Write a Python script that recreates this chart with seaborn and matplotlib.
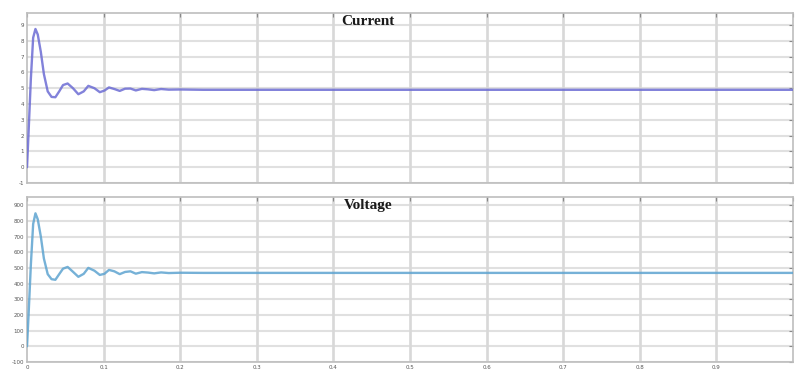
import numpy as np
import pandas as pd
import matplotlib
matplotlib.use("Agg")
import matplotlib.pyplot as plt
import seaborn as sns

# Step response of the converter: time (s), current (A) and voltage (V)
time_s = [0.0, 0.002, 0.005, 0.008, 0.011, 0.014, 0.018, 0.022, 0.027, 0.032,
          0.037, 0.042, 0.047, 0.053, 0.060, 0.067, 0.074, 0.080, 0.088, 0.095,
          0.101, 0.107, 0.114, 0.121, 0.128, 0.135, 0.142, 0.150, 0.158, 0.166,
          0.175, 0.185, 0.200, 0.230, 0.300, 1.000]
current_a = [0.0, 2.2, 5.6, 8.2, 8.75, 8.4, 7.3, 5.9, 4.8, 4.45,
             4.43, 4.8, 5.2, 5.3, 5.0, 4.62, 4.8, 5.15, 5.0, 4.75,
             4.85, 5.05, 4.95, 4.83, 4.97, 4.98, 4.86, 4.96, 4.93, 4.88,
             4.95, 4.91, 4.92, 4.9, 4.9, 4.9]
voltage_v = [0.0, 200.0, 520.0, 780.0, 848.0, 810.0, 700.0, 560.0, 460.0, 428.0,
             424.0, 460.0, 495.0, 506.0, 475.0, 443.0, 462.0, 500.0, 482.0, 455.0,
             462.0, 487.0, 478.0, 460.0, 474.0, 478.0, 463.0, 473.0, 470.0, 465.0,
             471.0, 467.0, 469.0, 468.0, 468.0, 468.0]

x_ticks = [0, 0.1, 0.2, 0.3, 0.4, 0.5, 0.6, 0.7, 0.8, 0.9, 1.0]
x_tick_labels = ["0", "0.1", "0.2", "0.3", "0.4", "0.5", "0.6", "0.7", "0.8", "0.9", ""]
current_ticks = [-1, 0, 1, 2, 3, 4, 5, 6, 7, 8, 9]
voltage_ticks = [-100, 0, 100, 200, 300, 400, 500, 600, 700, 800, 900]

df = pd.DataFrame({"t": time_s, "current": current_a, "voltage": voltage_v})

sns.set_style("white")
plt.rcParams["font.family"] = ["DejaVu Sans"]

fig = plt.figure(figsize=(7.95, 3.72), dpi=100)
ax_i = fig.add_axes([0.034, 0.508, 0.9635, 0.457])
ax_v = fig.add_axes([0.034, 0.027, 0.9635, 0.443])

panels = [
    (ax_i, "current", "#6c6cd4", current_ticks, (-1, 9.76), "Current"),
    (ax_v, "voltage", "#5ea4d0", voltage_ticks, (-100, 951), "Voltage"),
]

for ax, col, color, yt, ylim, title in panels:
    ax.set_axisbelow(True)
    # MATLAB-like grid: light horizontal rules, heavier vertical ones
    for y in yt:
        ax.axhline(y, color="#e0e0e0", lw=1.5, zorder=0)
    for x in x_ticks[1:-1]:
        ax.axvline(x, color="#d8d8d8", lw=1.9, zorder=0)
    sns.lineplot(data=df, x="t", y=col, ax=ax, color=color, lw=1.7,
                 alpha=0.85, estimator=None, zorder=3)
    ax.set_xlim(0, 1.0)
    ax.set_ylim(*ylim)
    ax.set_yticks(yt)
    ax.set_yticklabels([str(v) for v in yt])
    ax.set_xticks(x_ticks)
    ax.set_xlabel("")
    ax.set_ylabel("")
    ax.tick_params(axis="both", which="both", direction="in", length=3,
                   width=0.8, color="#888888", labelsize=4, labelcolor="#555555",
                   top=True, right=True, pad=2)
    for side, sp in ax.spines.items():
        sp.set_color("#bdbdbd")
        sp.set_linewidth(1.2)
    ax.text(0.445, 0.99, title, transform=ax.transAxes, ha="center", va="top",
            fontsize=11, fontweight="bold", family="Liberation Serif",
            color="#1a1a1a", zorder=5)

ax_i.set_xticklabels([])
ax_v.set_xticklabels(x_tick_labels)

fig.savefig("out.png", dpi=100)
